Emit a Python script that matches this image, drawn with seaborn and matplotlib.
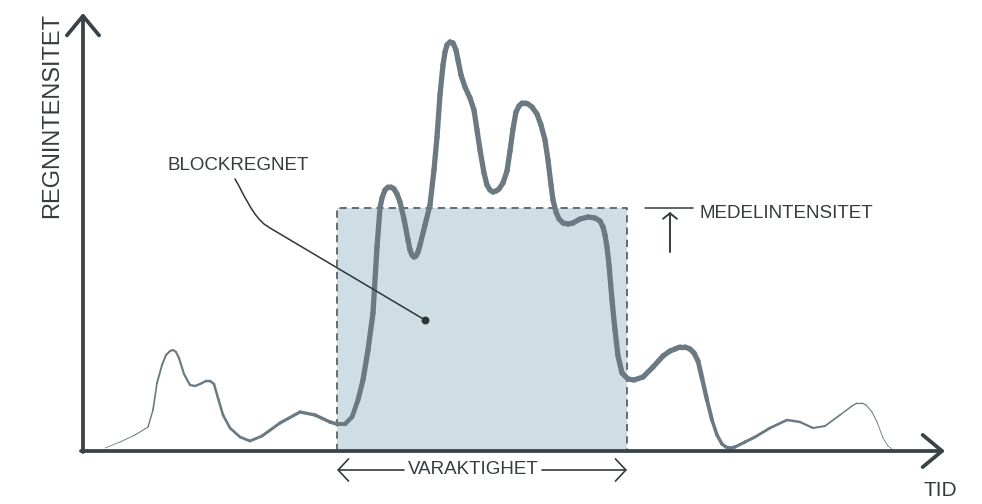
import matplotlib
matplotlib.use('Agg')
from matplotlib import pyplot as plt
import seaborn as sns
import pandas as pd
import numpy as np

# rain intensity curve (time, intensity) in arbitrary units
tid = [105, 120, 135, 148, 153, 157, 162, 166, 170, 173, 176, 179, 184, 190, 195,
       200, 206, 210, 214, 218, 223, 230, 240, 250, 262, 280, 300, 315, 330, 337,
       345, 352, 358, 363, 368, 373, 377, 380, 382, 385, 388, 391, 394, 397, 400,
       404, 408, 410, 412, 414, 416, 418, 420, 425, 430, 434, 437, 440, 443, 445,
       447, 450, 453, 456, 458, 461, 465, 470, 474, 477, 480, 484, 487, 490, 493,
       496, 499, 503, 507, 510, 513, 516, 519, 522, 525, 528, 532, 537, 541, 545,
       548, 551, 553, 556, 559, 563, 568, 573, 580, 588, 595, 600, 603, 605, 607,
       609, 612, 615, 618, 622, 628, 634, 643, 653, 663, 670, 675, 680, 685, 690,
       694, 698, 702, 707, 712, 717, 722, 726, 730, 735, 745, 755, 770, 787, 800,
       813, 825, 840, 852, 857, 862, 866, 872, 877, 883, 888, 892]
intensitet = [3, 9, 16, 24, 41, 68, 86, 96, 100, 101, 99, 93, 77, 66, 65,
              67, 70, 70, 67, 53, 36, 23, 14, 10, 15, 28, 39, 36, 29, 27,
              27, 34, 51, 71, 101, 138, 204, 243, 253, 261, 264, 264, 262, 257, 249,
              232, 211, 201, 196, 194, 195, 199, 206, 226, 246, 281, 314, 356, 386, 399,
              406, 409, 408, 401, 391, 376, 364, 353, 341, 321, 301, 278, 266, 261, 259,
              260, 262, 268, 280, 300, 322, 339, 345, 348, 348, 347, 344, 337, 326, 311,
              291, 266, 251, 239, 232, 228, 227, 228, 232, 234, 233, 230, 224, 216, 204,
              186, 151, 121, 95, 78, 72, 71, 74, 84, 95, 100, 102, 104, 104, 102,
              98, 90, 73, 51, 31, 16, 7, 4, 3, 4, 9, 14, 23, 31, 29,
              23, 25, 36, 45, 48, 48, 46, 39, 29, 13, 5, 2]

# block rain: start, end and mean intensity
block_start = 337
block_end = 627
medel = 243

axis_col = '#394247'
curve_col = '#6b7a82'
text_col = '#363b3e'
fill_col = '#cfdee4'

sns.set_theme(style='white')
plt.rcParams['font.family'] = ['Liberation Sans', 'DejaVu Sans']

fig = plt.figure(figsize=(9.82, 5.04), dpi=100)
ax = fig.add_axes([0, 0, 1, 1])
ax.set_xlim(0, 982)
ax.set_ylim(-53, 451)
ax.axis('off')

# block
ax.fill_between([block_start, block_end], 0, medel, color=fill_col, lw=0, zorder=1)
ax.plot([block_start, block_start, block_end, block_end], [0, medel, medel, 0],
        ls=(0, (4, 2.8)), lw=1.3, color='#5a6266', zorder=2)

# curve, thin at the ends and thick in the middle -> one segment per row pair
w_x = [105, 145, 160, 230, 330, 365, 695, 715, 800, 850, 892]
w_lw = [0.5, 0.8, 1.4, 1.9, 2.5, 3.8, 3.8, 2.5, 1.7, 1.0, 0.5]
rows = []
widths = {}
for i in range(len(tid) - 1):
    rows.append((i, tid[i], intensitet[i]))
    rows.append((i, tid[i + 1], intensitet[i + 1]))
    widths[i] = float(np.interp((tid[i] + tid[i + 1]) / 2, w_x, w_lw))
df = pd.DataFrame(rows, columns=['seg', 'tid', 'intensitet'])
sns.lineplot(data=df, x='tid', y='intensitet', units='seg', estimator=None, sort=False,
             size='seg', sizes=widths, color=curve_col, legend=False,
             solid_capstyle='round', ax=ax, zorder=3)

# axes with open arrow heads
ax.annotate('', xy=(945, 0), xytext=(81, 0),
            arrowprops=dict(arrowstyle='->,head_length=0.7,head_width=0.58', lw=2.7,
                            color=axis_col, mutation_scale=20, shrinkA=0, shrinkB=0), zorder=4)
ax.annotate('', xy=(83, 438), xytext=(83, -1),
            arrowprops=dict(arrowstyle='->,head_length=0.7,head_width=0.58', lw=2.7,
                            color=axis_col, mutation_scale=20, shrinkA=0, shrinkB=0), zorder=4)

ax.text(52, 336, 'REGNINTENSITET', rotation=90, ha='center', va='center',
        fontsize=17, color=text_col)
ax.text(957, -39, 'TID', ha='right', va='center', fontsize=15, color=text_col)

# duration arrow
ax.text(473, -19, 'VARAKTIGHET', ha='center', va='center', fontsize=13.5, color=text_col)
for x0, x1 in [(404, block_start), (542, block_end)]:
    ax.annotate('', xy=(x1, -19), xytext=(x0, -19),
                arrowprops=dict(arrowstyle='->,head_length=0.75,head_width=0.8', lw=1.2,
                                color=text_col, mutation_scale=10, shrinkA=0, shrinkB=0))

# mean intensity marker
ax.plot([645, 693], [medel, medel], color=text_col, lw=1.1)
ax.annotate('', xy=(670, medel - 4), xytext=(670, medel - 44),
            arrowprops=dict(arrowstyle='->,head_length=0.4,head_width=0.5', lw=1.4,
                            color=text_col, mutation_scale=10, shrinkA=0, shrinkB=0))
ax.text(700, medel - 6, 'MEDELINTENSITET', ha='left', va='center', fontsize=13.5, color=text_col)

# block rain label with leader line
ax.text(168, 286, 'BLOCKREGNET', ha='left', va='center', fontsize=13.5, color=text_col)
ax.plot([235, 239, 243, 247, 251, 255, 259, 264, 270, 425],
        [272, 265, 257, 250, 243, 237, 232, 227, 223, 131],
        color='#2f3539', lw=1.1, zorder=5, solid_joinstyle='round')
ax.scatter([425], [131], s=22, color='#2f3539', zorder=6)

fig.savefig('out.png', dpi=100)
